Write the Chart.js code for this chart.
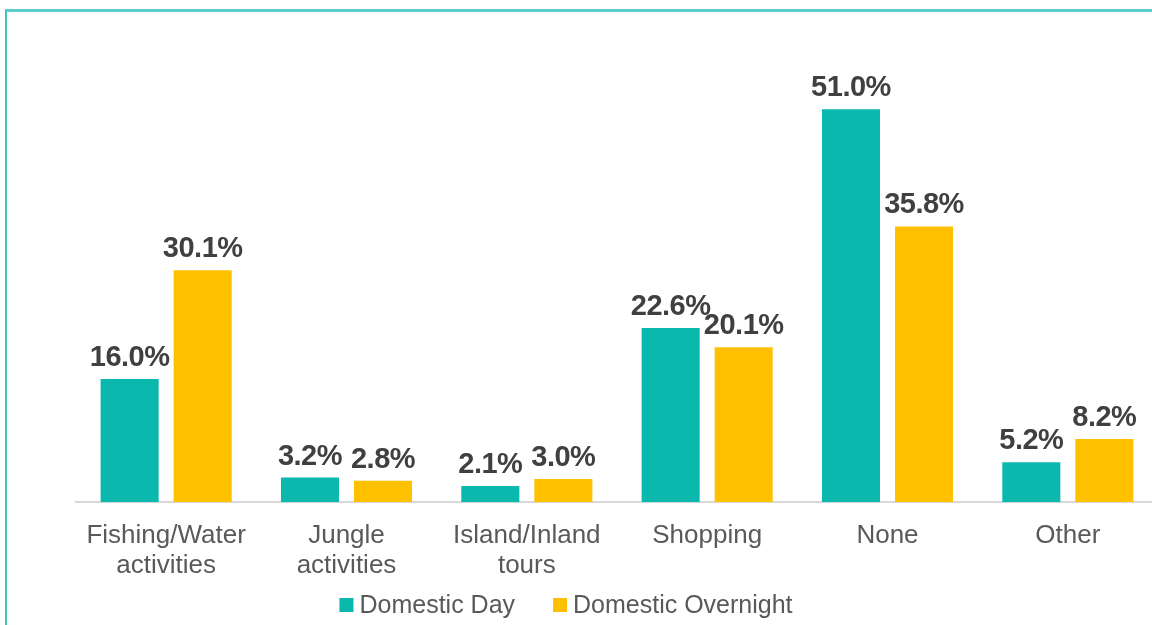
<!DOCTYPE html>
<html>
<head>
<meta charset="utf-8">
<script src="https://cdn.jsdelivr.net/npm/chart.js@4.4.0/dist/chart.umd.min.js"></script>
<style>
    html, body { margin: 0; padding: 0; width: 1152px; height: 625px; overflow: hidden; background: #fff; }
    #frame {
        position: absolute; left: 5px; top: 9px; width: 1200px; height: 700px;
        border-top: 3px solid #5ccdc8; border-left: 2px solid #3fc3bc;
    }
    #wrap { position: absolute; left: -30px; top: 0; width: 1192px; height: 625px; }
</style>
</head>
<body>
<div id="frame"></div>
<div id="wrap"><canvas id="barChart"></canvas></div>
<script>
const categories = [
    ["Fishing/Water", "activities"],
    ["Jungle", "activities"],
    ["Island/Inland", "tours"],
    "Shopping",
    "None",
    "Other"
];
const seriesNames = ["Domestic Day", "Domestic Overnight"];
const domesticDay = [16.0, 3.2, 2.1, 22.6, 51.0, 5.2];
const domesticOvernight = [30.1, 2.8, 3.0, 20.1, 35.8, 8.2];
const seriesColors = ["#0ab8ad", "#ffc000"];

const FONT = "'Liberation Sans', Arial, sans-serif";

document.addEventListener("DOMContentLoaded", () => {
    const ctx = document.getElementById("barChart").getContext("2d");

    // value labels above each bar
    const drawValues = {
        id: "drawValues",
        afterDatasetsDraw(chart) {
            const { ctx } = chart;
            ctx.save();
            ctx.fillStyle = "#404040";
            ctx.font = "bold 29px " + FONT;
            ctx.letterSpacing = "-0.5px";
            ctx.textAlign = "center";
            ctx.textBaseline = "alphabetic";
            chart.data.datasets.forEach((dataset, i) => {
                chart.getDatasetMeta(i).data.forEach((bar, j) => {
                    ctx.fillText(dataset.data[j].toFixed(1) + "%", bar.x, bar.y - 13);
                });
            });
            ctx.restore();
        }
    };

    // legend at the bottom, drawn by hand so the spacing matches
    const bottomLegend = {
        id: "bottomLegend",
        afterDraw(chart) {
            const { ctx } = chart;
            const box = 14, gapText = 6, gapItem = 38;
            const centerX = 596, centerY = 605;
            ctx.save();
            ctx.font = "25px " + FONT;
            ctx.textBaseline = "middle";
            ctx.textAlign = "left";
            const items = chart.data.datasets.map(ds => ({
                text: ds.label,
                color: ds.backgroundColor,
                w: box + gapText + ctx.measureText(ds.label).width
            }));
            const total = items.reduce((s, it) => s + it.w, 0) + gapItem * (items.length - 1);
            let x = centerX - total / 2;
            items.forEach(it => {
                ctx.fillStyle = it.color;
                ctx.fillRect(x, centerY - box / 2, box, box);
                ctx.fillStyle = "#595959";
                ctx.fillText(it.text, x + box + gapText, centerY + 1);
                x += it.w + gapItem;
            });
            ctx.restore();
        }
    };

    new Chart(ctx, {
        type: "bar",
        data: {
            labels: categories,
            datasets: [
                { label: seriesNames[0], data: domesticDay, backgroundColor: seriesColors[0] },
                { label: seriesNames[1], data: domesticOvernight, backgroundColor: seriesColors[1] }
            ]
        },
        options: {
            responsive: true,
            maintainAspectRatio: false,
            animation: false,
            categoryPercentage: 0.81,
            barPercentage: 0.795,
            layout: { padding: { left: 106, right: 4, top: 40, bottom: 25 } },
            plugins: {
                legend: { display: false },
                tooltip: { enabled: false }
            },
            scales: {
                x: {
                    grid: { display: false, drawTicks: false },
                    border: { color: "#d9d9d9", width: 2 },
                    ticks: {
                        color: "#595959",
                        padding: 19,
                        maxRotation: 0,
                        autoSkip: false,
                        font: { size: 26, family: FONT, lineHeight: 1.15 }
                    }
                },
                y: {
                    display: false,
                    min: 0,
                    max: 60
                }
            }
        },
        plugins: [drawValues, bottomLegend]
    });
});
</script>
</body>
</html>
